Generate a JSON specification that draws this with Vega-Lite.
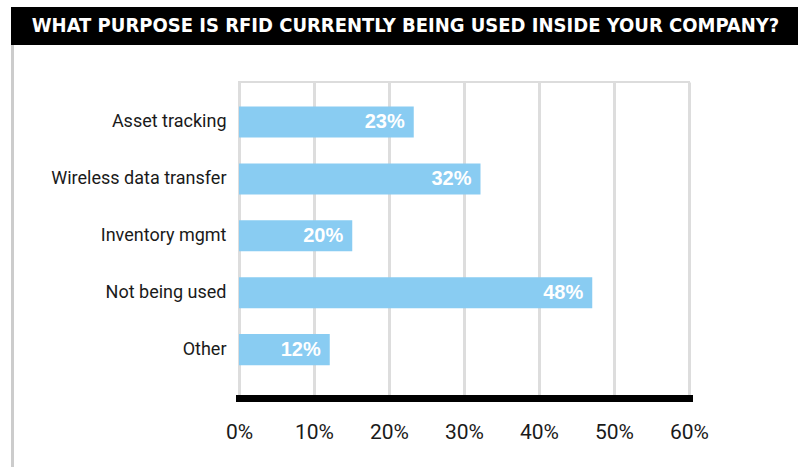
{
  "$schema": "https://vega.github.io/schema/vega-lite/v6.json",
  "padding": {"left": 11, "top": 7, "right": 0, "bottom": 0},
  "background": "white",
  "spacing": 0,
  "bounds": "flush",
  "config": {"view": {"stroke": null}, "font": "Roboto"},
  "vconcat": [
    {
      "width": 787,
      "height": 38,
      "view": {"fill": "black", "stroke": null},
      "data": {"values": [{"title": "WHAT PURPOSE IS RFID CURRENTLY BEING USED INSIDE YOUR COMPANY?"}]},
      "mark": {"type": "text", "color": "white", "font": "DejaVu Sans Condensed", "fontWeight": "bold", "fontSize": 20, "baseline": "middle", "align": "center", "dx": 1},
      "encoding": {"text": {"field": "title"}}
    },
    {
      "spacing": 225,
      "bounds": "flush",
      "hconcat": [
        {
          "width": 3,
          "height": 422,
          "view": {"fill": "#cccccc", "stroke": null},
          "data": {"values": [{}]},
          "mark": {"type": "text", "text": ""}
        },
        {
          "spacing": 0,
          "bounds": "flush",
          "vconcat": [
            {
              "width": 450,
              "height": 37,
              "data": {"values": [{}]},
              "mark": {"type": "text", "text": ""}
            },
            {
              "width": 450,
              "height": 316,
              "view": {"stroke": "#dcdcdc", "strokeWidth": 2},
              "data": {
                "values": [
                  {"category": "Asset tracking", "value": 23.3, "label": "23%"},
                  {"category": "Wireless data transfer", "value": 32.2, "label": "32%"},
                  {"category": "Inventory mgmt", "value": 15.1, "label": "20%"},
                  {"category": "Not being used", "value": 47.1, "label": "48%"},
                  {"category": "Other", "value": 12.1, "label": "12%"}
                ]
              },
              "encoding": {
                "y": {
                  "field": "category",
                  "type": "nominal",
                  "sort": null,
                  "scale": {"paddingInner": 0.455, "paddingOuter": 0.504, "align": 0.427},
                  "axis": {"title": null, "domain": false, "ticks": false, "labelPadding": 13, "labelFontSize": 18, "labelFont": "Roboto", "labelColor": "#1a1a1a", "labelLimit": 300}
                },
                "x": {
                  "field": "value",
                  "type": "quantitative",
                  "scale": {"domain": [0, 60], "nice": false},
                  "axis": {"title": null, "values": [0, 10, 20, 30, 40, 50, 60], "labelExpr": "datum.value + '%'", "grid": true, "gridColor": "#dddddd", "gridWidth": 3, "domainColor": "black", "domainWidth": 7, "domainCap": "square", "ticks": false, "tickSize": 0, "labelPadding": 40, "labelBaseline": "alphabetic", "labelFontSize": 21, "labelFont": "Roboto", "labelColor": "#1a1a1a", "labelFlush": false}
                }
              },
              "layer": [
                {"mark": {"type": "bar", "color": "#89CCF2"}},
                {
                  "mark": {"type": "text", "align": "right", "dx": -9, "color": "white", "font": "Liberation Sans", "fontWeight": "bold", "fontSize": 20, "baseline": "middle"},
                  "encoding": {"text": {"field": "label"}}
                }
              ]
            }
          ]
        }
      ]
    }
  ]
}
